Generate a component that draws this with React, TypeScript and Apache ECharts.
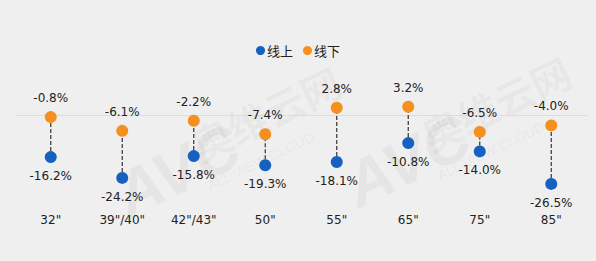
import React, { useEffect, useRef } from "react";
import * as echarts from "echarts";

const categories = ['32"', '39"/40"', '42"/43"', '50"', '55"', '65"', '75"', '85"'];
const onlineValues = [-16.2, -24.2, -15.8, -19.3, -18.1, -10.8, -14.0, -26.5];
const offlineValues = [-0.8, -6.1, -2.2, -7.4, 2.8, 3.2, -6.5, -4.0];

const BLUE = "#1661bf";
const ORANGE = "#f5901e";
const CJK_FONT = '"Microsoft YaHei", "Noto Sans CJK SC", sans-serif';
const NUM_FONT = '"DejaVu Sans", "Noto Sans", sans-serif';

export default function App() {
  const ref = useRef<HTMLDivElement>(null);

  useEffect(() => {
    if (!ref.current) return;
    const chart = echarts.init(ref.current, null, { renderer: "svg" });

    const pairs = categories.map((_, i) => [i, onlineValues[i], offlineValues[i]]);
    const fmt = (p: any) => `${(p.value[1] as number).toFixed(1)}%`;

    // faint brand watermark
    const watermark = (x: number, y: number) => ({
      type: "group",
      x,
      y,
      silent: true,
      z: -10,
      children: [
        {
          type: "text",
          x: 0,
          y: 0,
          rotation: Math.PI / 7,
          style: {
            text: "AVC",
            font: 'italic bold 64px "Liberation Sans", sans-serif',
            fill: "rgba(0,0,0,0.04)",
          },
        },
        {
          type: "text",
          x: 80,
          y: -40,
          rotation: Math.PI / 7,
          style: {
            text: "奥维云网",
            font: 'bold 40px "Noto Sans CJK SC", sans-serif',
            fill: "rgba(0,0,0,0.04)",
          },
        },
        {
          type: "text",
          x: 100,
          y: 10,
          rotation: Math.PI / 7,
          style: {
            text: "ALL VIEW CLOUD",
            font: '14px "Liberation Sans", sans-serif',
            fill: "rgba(0,0,0,0.05)",
          },
        },
      ],
    });

    const labelStyle = {
      show: true,
      distance: 7,
      fontSize: 12,
      color: "#222",
      fontFamily: NUM_FONT,
      formatter: fmt,
    };

    chart.setOption({
      animation: false,
      backgroundColor: "#efefef",
      textStyle: { fontFamily: CJK_FONT },
      legend: {
        top: 39,
        left: "center",
        icon: "circle",
        itemWidth: 9,
        itemHeight: 9,
        itemGap: 10,
        textStyle: { fontSize: 13, color: "#222", fontFamily: CJK_FONT, padding: [0, 0, 0, -3] },
        data: ["线上", "线下"],
      },
      graphic: [watermark(105, 170), watermark(335, 160)],
      grid: { left: 15, right: 9, top: 89, bottom: 68 },
      xAxis: {
        type: "category",
        data: categories,
        axisLine: { show: false },
        axisTick: { show: false },
        axisLabel: { margin: 21, fontSize: 12, color: "#222", fontFamily: NUM_FONT },
      },
      yAxis: {
        type: "value",
        min: -30,
        max: 10,
        show: false,
        splitLine: { show: false },
      },
      series: [
        {
          type: "custom",
          name: "connector",
          z: 1,
          silent: true,
          renderItem: (_params: any, api: any) => {
            const a = api.coord([api.value(0), api.value(1)]);
            const b = api.coord([api.value(0), api.value(2)]);
            return {
              type: "line",
              shape: { x1: a[0], y1: a[1], x2: b[0], y2: b[1] },
              style: { stroke: "#333", lineWidth: 1.2, lineDash: [4, 2] },
            };
          },
          data: pairs,
          markLine: {
            z: 0,
            silent: true,
            symbol: "none",
            label: { show: false },
            lineStyle: { color: "#dcdcdc", type: "solid", width: 1 },
            data: [{ yAxis: 0 }],
          },
        },
        {
          type: "scatter",
          name: "线上",
          z: 3,
          symbolSize: 12,
          itemStyle: { color: BLUE, opacity: 1 },
          label: { ...labelStyle, position: "bottom" },
          data: onlineValues.map((v, i) => [i, v]),
        },
        {
          type: "scatter",
          name: "线下",
          z: 3,
          symbolSize: 12,
          itemStyle: { color: ORANGE, opacity: 1 },
          label: { ...labelStyle, position: "top" },
          data: offlineValues.map((v, i) => [i, v]),
        },
      ],
    });

    return () => chart.dispose();
  }, []);

  return <div ref={ref} style={{ width: 596, height: 261, position: "absolute", left: 0, top: 0 }} />;
}
